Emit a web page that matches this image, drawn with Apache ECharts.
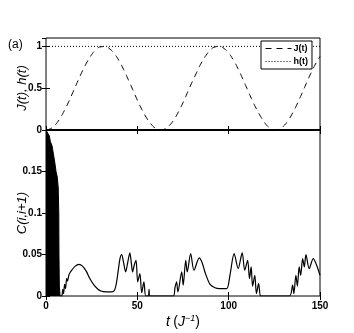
<!DOCTYPE html>
<html>
<head>
<meta charset="utf-8">
<script src="https://cdn.jsdelivr.net/npm/echarts@6/dist/echarts.min.js"></script>
<style>
  html, body { margin: 0; padding: 0; background: #fff; }
  #chart { width: 354px; height: 333px; }
</style>
</head>
<body>
<div id="chart"></div>
<script>
// time samples of J(t) (top panel)
const tJ = [0, 2.5, 5, 7.5, 10, 12.5, 15, 17.5, 20, 22.5, 25, 27.5, 30, 32.5, 35, 37.5, 40, 42.5, 45, 47.5,
  50, 52.5, 55, 57.5, 60, 62.5, 65, 67.5, 70, 72.5, 75, 77.5, 80, 82.5, 85, 87.5, 90, 92.5, 95, 97.5,
  100, 102.5, 105, 107.5, 110, 112.5, 115, 117.5, 120, 122.5, 125, 127.5, 130, 132.5, 135, 137.5, 140, 142.5, 145, 147.5, 150];
const jVals = [0, 0.016, 0.061, 0.134, 0.23, 0.342, 0.465, 0.589, 0.708, 0.814, 0.901, 0.962, 0.995, 0.997, 0.968, 0.91, 0.827, 0.723, 0.605, 0.482,
  0.358, 0.244, 0.146, 0.07, 0.02, 0, 0.012, 0.053, 0.123, 0.216, 0.327, 0.451, 0.573, 0.689, 0.801, 0.89, 0.956, 0.993, 0.999, 0.974,
  0.92, 0.839, 0.738, 0.621, 0.498, 0.375, 0.261, 0.161, 0.078, 0.025, 0.001, 0.008, 0.046, 0.112, 0.203, 0.311, 0.432, 0.557, 0.678, 0.788, 0.88];
// h(t) is constant
const tH = [0, 150];
const hVals = [1, 1];

// fast oscillating start of C(i,i+1): upper envelope of the dark block
const tBurst = [0, 0.4, 1.0, 1.8, 2.4, 3.3, 4.0, 4.8, 5.5, 6.2, 6.7, 7.0, 7.1, 7.3, 7.7];
const cBurst = [0.2, 0.198, 0.196, 0.193, 0.186, 0.181, 0.172, 0.161, 0.15, 0.143, 0.13, 0.1, 0.05, 0.012, 0];

// rest of C(i,i+1)
const tCorr = [7.7, 8.6, 9.2, 9.6, 10.2, 10.7, 11.3, 11.8, 12.6, 14, 16, 18, 20, 22, 24, 26, 28, 30, 33, 36,
  37.5, 38.5, 39.5, 40.5, 41.4, 42.5, 43.6, 44.7, 45.9, 46.7, 47.4, 48.4, 49.3, 50.2, 51.4, 52.4, 53.6, 54.6, 56.0, 56.4, 56.9,
  69.7, 70.6, 71.5, 72.2, 74.3, 75.1, 76.5, 77.3, 79.2, 81, 83.9, 85.5, 87, 89.8, 92.5, 95, 98.9,
  100.7, 103, 105.2, 107.4, 108.8, 110.4, 111.4, 112.3, 113.1, 114.3, 115.2, 116.4, 117.4, 118.3,
  133.2, 135, 135.7, 136.8, 137.6, 138.6, 139.4, 140.5, 141.4, 142.3, 144.1, 146.3, 148, 150];
const cCorr = [0, 0, 0.008, 0.003, 0.014, 0.009, 0.021, 0.018, 0.026, 0.031, 0.036, 0.038, 0.036, 0.03, 0.021, 0.014, 0.009, 0.006, 0.005, 0.005,
  0.007, 0.015, 0.03, 0.045, 0.05, 0.04, 0.029, 0.04, 0.052, 0.04, 0.029, 0.038, 0.043, 0.017, 0.027, 0.004, 0.017, 0, 0, 0.008, 0,
  0, 0.01, 0.017, 0.005, 0.029, 0.013, 0.043, 0.029, 0.051, 0.031, 0.046, 0.04, 0.029, 0.014, 0.01, 0.009, 0.009,
  0.025, 0.051, 0.033, 0.052, 0.031, 0.043, 0.021, 0.035, 0.012, 0.025, 0.003, 0.015, 0, 0,
  0, 0.013, 0.003, 0.025, 0.012, 0.035, 0.025, 0.045, 0.035, 0.05, 0.033, 0.045, 0.038, 0.025];

const pairs = (xs, ys) => xs.map((x, i) => [x, ys[i]]);

const font = 'Liberation Sans, Arial, sans-serif';
const tickLabel = { fontSize: 10, fontWeight: 'bold', color: '#000', fontFamily: font };

function xAx(grid, pos, labels) {
  return {
    type: 'value', gridIndex: grid, position: pos, min: 0, max: 150, interval: 50,
    axisLine: { show: false },
    axisTick: { inside: true, length: 4, lineStyle: { color: '#000' } },
    axisLabel: labels ? Object.assign({ margin: 5 }, tickLabel) : { show: false },
    splitLine: { show: false }
  };
}
function yAx(grid, pos, max, interval, labels) {
  return {
    type: 'value', gridIndex: grid, position: pos, min: 0, max: max, interval: interval,
    axisLine: { show: false },
    axisTick: { inside: true, length: 4, lineStyle: { color: '#000' } },
    axisLabel: labels ? Object.assign({ margin: 4, showMaxLabel: false }, tickLabel) : { show: false },
    splitLine: { show: false }
  };
}

let myChart = echarts.init(document.getElementById('chart'));
let option = {
  backgroundColor: '#fff',
  animation: false,
  grid: [
    { left: 46, right: 34, top: 38, height: 92, show: true, borderColor: '#000', borderWidth: 1, backgroundColor: 'transparent' },
    { left: 46, right: 34, top: 130, height: 166, show: true, borderColor: '#000', borderWidth: 1, backgroundColor: 'transparent' }
  ],
  xAxis: [
    xAx(0, 'bottom', false),
    xAx(0, 'top', false),
    Object.assign(xAx(1, 'bottom', true), {
      name: '{i|t} {n|(}{i|J}{s|−1}{n|)}',
      nameLocation: 'middle',
      nameGap: 18,
      nameTextStyle: {
        rich: {
          i: { fontSize: 14, fontStyle: 'italic', fontFamily: font, color: '#000' },
          n: { fontSize: 14, fontFamily: font, color: '#000' },
          s: { fontSize: 9, fontStyle: 'italic', fontFamily: font, color: '#000', verticalAlign: 'top', padding: [0, 0, 8, 0] }
        }
      }
    }),
    xAx(1, 'top', false)
  ],
  yAxis: [
    yAx(0, 'left', 1.1, 0.5, true),
    yAx(0, 'right', 1.1, 0.5, false),
    yAx(1, 'left', 0.2, 0.05, true),
    yAx(1, 'right', 0.2, 0.05, false)
  ],
  legend: {
    left: 261, top: 41,
    orient: 'vertical',
    data: ['J(t)', 'h(t)'],
    itemWidth: 26, itemHeight: 8, itemGap: 4,
    padding: [3, 4, 3, 4],
    backgroundColor: '#fff',
    borderColor: '#000', borderWidth: 1,
    itemStyle: { opacity: 0 },
    lineStyle: { width: 1 },
    textStyle: { fontSize: 9, fontWeight: 'bold', color: '#000', fontFamily: font, padding: [0, 0, 0, -3] }
  },
  graphic: [
    { type: 'text', left: 8, top: 39, style: { text: '(a)', font: '12px ' + font, fill: '#000' } },
    { type: 'text', x: 22, y: 88, rotation: Math.PI / 2,
      style: { text: 'J(t), h(t)', font: 'italic 13px ' + font, fill: '#000', align: 'center', verticalAlign: 'middle' } },
    { type: 'text', x: 22, y: 213, rotation: Math.PI / 2,
      style: { text: 'C(i,i+1)', font: 'italic 13px ' + font, fill: '#000', align: 'center', verticalAlign: 'middle' } }
  ],
  series: [
    {
      name: 'J(t)', type: 'line', xAxisIndex: 0, yAxisIndex: 0,
      data: pairs(tJ, jVals), smooth: true, symbol: 'none',
      lineStyle: { color: '#000', width: 1, type: [6, 5] }, itemStyle: { color: '#000' }
    },
    {
      name: 'h(t)', type: 'line', xAxisIndex: 0, yAxisIndex: 0,
      data: pairs(tH, hVals), symbol: 'none',
      lineStyle: { color: '#000', width: 1, type: [1, 2] }, itemStyle: { color: '#000' }
    },
    {
      name: 'zero', type: 'line', xAxisIndex: 0, yAxisIndex: 0,
      data: [[0, 0], [150, 0]], symbol: 'none',
      lineStyle: { color: '#000', width: 2 }
    },
    {
      name: 'C burst', type: 'line', xAxisIndex: 2, yAxisIndex: 2,
      data: pairs(tBurst, cBurst), symbol: 'none',
      lineStyle: { color: '#000', width: 1 },
      areaStyle: { color: '#000', opacity: 1 }
    },
    {
      name: 'C(i,i+1)', type: 'line', xAxisIndex: 2, yAxisIndex: 2,
      data: pairs(tCorr, cCorr), smooth: 0.3, symbol: 'none',
      lineStyle: { color: '#000', width: 1.2 }
    }
  ]
};
myChart.setOption(option);
</script>
</body>
</html>
